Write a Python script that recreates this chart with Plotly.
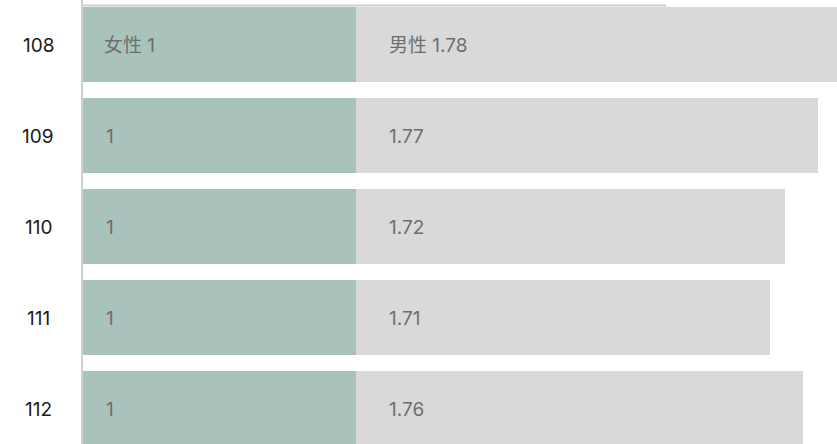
import plotly.graph_objects as go

# ---- data ----
categories = ["108", "109", "110", "111", "112"]
female_labels = ["1", "1", "1", "1", "1"]
male_labels = ["1.78", "1.77", "1.72", "1.71", "1.76"]
# bar lengths as drawn (in units of the female bar)
female_len = [1, 1, 1, 1, 1]
male_len = [1.78, 1.692, 1.571, 1.516, 1.637]
series_names = ["女性", "男性"]

FEMALE_COLOR = "#a9c3bc"
MALE_COLOR = "#d9d9d9"
TEXT_COLOR = "#6e6e6e"
FONT = "Inter, Noto Sans CJK SC, sans-serif"
FS = 19

fig = go.Figure()
fig.add_trace(go.Bar(
    y=categories, x=female_len, orientation="h", name=series_names[0],
    marker=dict(color=FEMALE_COLOR, line=dict(width=0)), width=0.824,
    hoverinfo="skip",
))
fig.add_trace(go.Bar(
    y=categories, x=male_len, orientation="h", name=series_names[1],
    marker=dict(color=MALE_COLOR, line=dict(width=0)), width=0.824,
    hoverinfo="skip",
))

annotations = []
for i, cat in enumerate(categories):
    f_txt = female_labels[i] if i else f"{series_names[0]} {female_labels[i]}"
    m_txt = male_labels[i] if i else f"{series_names[1]} {male_labels[i]}"
    annotations.append(dict(x=0, y=i, xref="x", yref="y", text=f_txt,
                            showarrow=False, xanchor="left", xshift=19 if i == 0 else 21,
                            yshift=-1,
                            font=dict(family=FONT, size=FS, color=TEXT_COLOR)))
    annotations.append(dict(x=female_len[i], y=i, xref="x", yref="y", text=m_txt,
                            showarrow=False, xanchor="left", xshift=31, yshift=-1,
                            font=dict(family=FONT, size=FS, color=TEXT_COLOR)))
    annotations.append(dict(x=0, y=i, xref="paper", yref="y", text=cat,
                            showarrow=False, xanchor="center", xshift=-45, yshift=-1,
                            font=dict(family=FONT, size=FS, color="#1a1a1a")))

fig.update_layout(
    width=837, height=444,
    margin=dict(l=83, r=0, t=0, b=0),
    barmode="stack", bargap=0.18,
    showlegend=False,
    plot_bgcolor="white", paper_bgcolor="white",
    xaxis=dict(range=[0, 754 / 273], visible=False, fixedrange=True),
    yaxis=dict(type="category", range=[4.39, -0.489], showticklabels=False,
               showgrid=False, zeroline=False, ticks="",
               showline=True, linecolor="#d0d0d0", linewidth=2,
               layer="below traces"),
    annotations=annotations,
    font=dict(family=FONT),
)
fig.add_shape(type="line", xref="x", yref="paper", x0=0, x1=2.136, y0=0.9875, y1=0.9875,
              line=dict(color="#cfcfcf", width=2), layer="below")

fig.write_html("out.html", config={"displayModeBar": False})
